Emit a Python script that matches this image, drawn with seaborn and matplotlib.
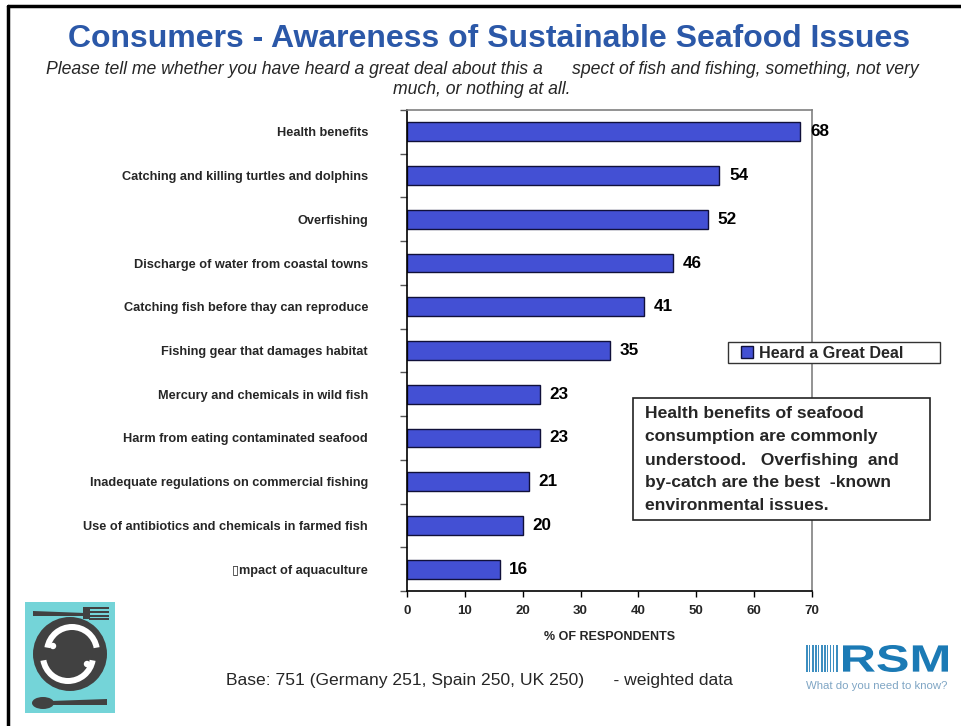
import matplotlib
matplotlib.use("Agg")
import matplotlib.pyplot as plt
import seaborn as sns
import pandas as pd
import numpy as np
from matplotlib.patches import Rectangle, Circle, Ellipse, Wedge, Polygon, PathPatch
from matplotlib.lines import Line2D
from matplotlib.textpath import TextPath
from matplotlib.font_manager import FontProperties
from matplotlib.transforms import Affine2D

categories = [
    "Health benefits",
    "Catching and killing turtles and dolphins",
    "Overfishing",
    "Discharge of water from coastal towns",
    "Catching fish before thay can reproduce",
    "Fishing gear that damages habitat",
    "Mercury and chemicals in wild fish",
    "Harm from eating contaminated seafood",
    "Inadequate regulations on commercial fishing",
    "Use of antibiotics and chemicals in farmed fish",
    "\u25afmpact of aquaculture",
]
values = [68, 54, 52, 46, 41, 35, 23, 23, 21, 20, 16]
x_ticks = [0, 10, 20, 30, 40, 50, 60, 70]
series_name = "Heard a Great Deal"

sns.set_theme(style="white")
plt.rcParams['font.family'] = ['Liberation Sans', 'DejaVu Sans']

W, H = 962, 726
fig = plt.figure(figsize=(W / 100, H / 100), dpi=100)
fig.patch.set_facecolor("white")

def fx(px):
    return px / W

def fy(py):
    return 1 - py / H

ax = fig.add_axes([fx(407), fy(591), fx(812) - fx(407), fy(110) - fy(591)])
df = pd.DataFrame({"issue": categories, "pct": values})
bar_color = "#4350D4"
edge_dark = "#10103a"
sns.barplot(data=df, y="issue", x="pct", orient="h", color=bar_color,
            width=0.43, edgecolor=edge_dark, linewidth=1.0, saturation=1, ax=ax)

ax.set_xlim(0, 70)
ax.set_ylim(len(categories) - 0.5, -0.5)
ax.set_xticks(x_ticks)
ax.set_xticklabels([str(t) for t in x_ticks], fontsize=9.5, fontweight="bold")
ax.tick_params(axis="x", direction="out", length=4, width=1, color="black", pad=6, bottom=True)
ax.set_yticks(range(len(categories)))
ax.set_yticklabels(categories, fontsize=9.2, fontweight="bold")
ax.tick_params(axis="y", which="major", length=0, pad=28)
ax.set_yticks(np.arange(-0.5, len(categories), 1.0), minor=True)
ax.tick_params(axis="y", which="minor", direction="out", length=5, width=1, color="#555555", left=True)
ax.set_xlabel("% OF RESPONDENTS", fontsize=9, fontweight="bold", labelpad=10)
ax.set_ylabel("")
for s in ["left", "bottom"]:
    ax.spines[s].set_color("black")
    ax.spines[s].set_linewidth(1.2)
for s in ["top", "right"]:
    ax.spines[s].set_color("#808080")
    ax.spines[s].set_linewidth(1.2)
for s in ax.spines.values():
    s.set_visible(True)
ax.grid(False)

for i, v in enumerate(values):
    ax.annotate(str(v), (v, i), xytext=(7, 0), textcoords="offset points",
                va="center", ha="left", fontsize=12.3, fontweight="bold", color="black")

# Legend with a manual box drawn over the axes frame
fig.patches.append(Rectangle((fx(728), fy(363)), fx(940) - fx(728), fy(342) - fy(363),
                             transform=fig.transFigure, facecolor="white",
                             edgecolor="#333333", lw=1.0, zorder=20))
leg = fig.legend(handles=[Rectangle((0, 0), 1, 1, facecolor=bar_color, edgecolor=edge_dark, lw=1)],
                 labels=[series_name], loc="center left",
                 bbox_to_anchor=(fx(741), fy(353)), bbox_transform=fig.transFigure,
                 frameon=False, handlelength=0.75, handleheight=0.75,
                 handletextpad=0.35, borderpad=0, borderaxespad=0,
                 prop={"weight": "bold", "size": 11.6})
leg.set_zorder(25)

# Annotation box
fig.patches.append(Rectangle((fx(633), fy(520)), fx(930) - fx(633), fy(398) - fy(520),
                             transform=fig.transFigure, facecolor="white",
                             edgecolor="#222222", lw=1.2, zorder=20))
note_lines = ["Health benefits of seafood", "consumption are commonly",
              "understood.   Overfishing  and", "by-catch are the best  -known",
              "environmental issues."]
for k, line in enumerate(note_lines):
    fig.text(fx(645), fy(414 + 23 * k), line, ha="left", va="center", fontsize=12.6,
             fontweight="bold", zorder=21)

# Titles
fig.text(fx(489), fy(39), "Consumers - Awareness of Sustainable Seafood Issues",
         ha="center", va="center", fontsize=23, fontweight="bold", color="#2B58A8")
fig.text(fx(482), fy(69),
         "Please tell me whether you have heard a great deal about this a      spect of fish and fishing, something, not very",
         ha="center", va="center", fontsize=12.7, style="italic")
fig.text(fx(482), fy(90), "much, or nothing at all.", ha="center", va="center",
         fontsize=12.7, style="italic")

fig.text(fx(226), fy(681), "Base: 751 (Germany 251, Spain 250, UK 250)      - weighted data",
         ha="left", va="center", fontsize=12.6)

# Slide frame
fig.lines.append(Line2D([fx(8), fx(8)], [fy(6), 0], transform=fig.transFigure, color="black", lw=2.5))
fig.lines.append(Line2D([fx(8), 1], [fy(6), fy(6)], transform=fig.transFigure, color="black", lw=2.5))

# Left logo
lg = fig.add_axes([fx(25), fy(713), fx(90), fy(602) - fy(713)])
lg.set_xlim(0, 90)
lg.set_ylim(111, 0)
lg.axis("off")
lg.add_patch(Rectangle((0, 0), 90, 111, facecolor="#74D4D8", edgecolor="none"))
dark = "#414141"
lg.add_patch(Circle((45, 52), 37, facecolor=dark, edgecolor="none"))
lg.add_patch(Wedge((47, 50), 28, 190, 350, width=6, facecolor="white", edgecolor="none"))
lg.add_patch(Wedge((43, 54), 28, 10, 170, width=6, facecolor="white", edgecolor="none"))
lg.add_patch(Circle((28, 44), 3.2, facecolor="white", edgecolor="none"))
lg.add_patch(Circle((62, 62), 3.2, facecolor="white", edgecolor="none"))
lg.add_patch(Polygon([[8, 9], [60, 11], [60, 14], [8, 14]], facecolor=dark, edgecolor="none"))
lg.add_patch(Rectangle((58, 5), 7, 12, facecolor=dark, edgecolor="none"))
for ty in [5, 8.8, 12.6, 16]:
    lg.add_patch(Rectangle((64, ty), 20, 2.0, facecolor=dark, edgecolor="none"))
lg.add_patch(Ellipse((18, 101), 22, 12, facecolor=dark, edgecolor="none"))
lg.add_patch(Polygon([[26, 99], [82, 97], [82, 103], [26, 103]], facecolor=dark, edgecolor="none"))

# RSM logo (pixel coordinates, y measured upward from figure bottom)
rl = fig.add_axes([fx(800), fy(700), fx(955) - fx(800), fy(640) - fy(700)])
rl.set_xlim(800, 955)
rl.set_ylim(H - 700, H - 640)
rl.axis("off")
rsm_blue = "#1B7AB5"
bar_x = [806, 809, 812.5, 815, 818, 821.5, 824, 827, 830, 833, 836]
bar_w = [2, 1.5, 1.5, 2, 1.5, 1.2, 2, 1.5, 1.5, 1.2, 2.2]
for bx, bw in zip(bar_x, bar_w):
    rl.add_patch(Rectangle((bx, H - 672), bw, 27, facecolor=rsm_blue, edgecolor="none", alpha=0.85))
tp = TextPath((0, 0), "RSM", size=40, prop=FontProperties(family="Liberation Sans", weight="bold"))
ext = tp.get_extents()
sx = (948 - 843) / ext.width
sy = 27 / ext.height
tr = Affine2D().translate(-ext.x0, -ext.y0).scale(sx, sy).translate(843, H - 672)
rl.add_patch(PathPatch(tr.transform_path(tp), facecolor=rsm_blue, edgecolor="none"))
rl.text(806, H - 686, "What do you need to know?", fontsize=8.2, color="#7FA5C4", ha="left", va="center")

fig.savefig("out.png", dpi=100, facecolor="white")
